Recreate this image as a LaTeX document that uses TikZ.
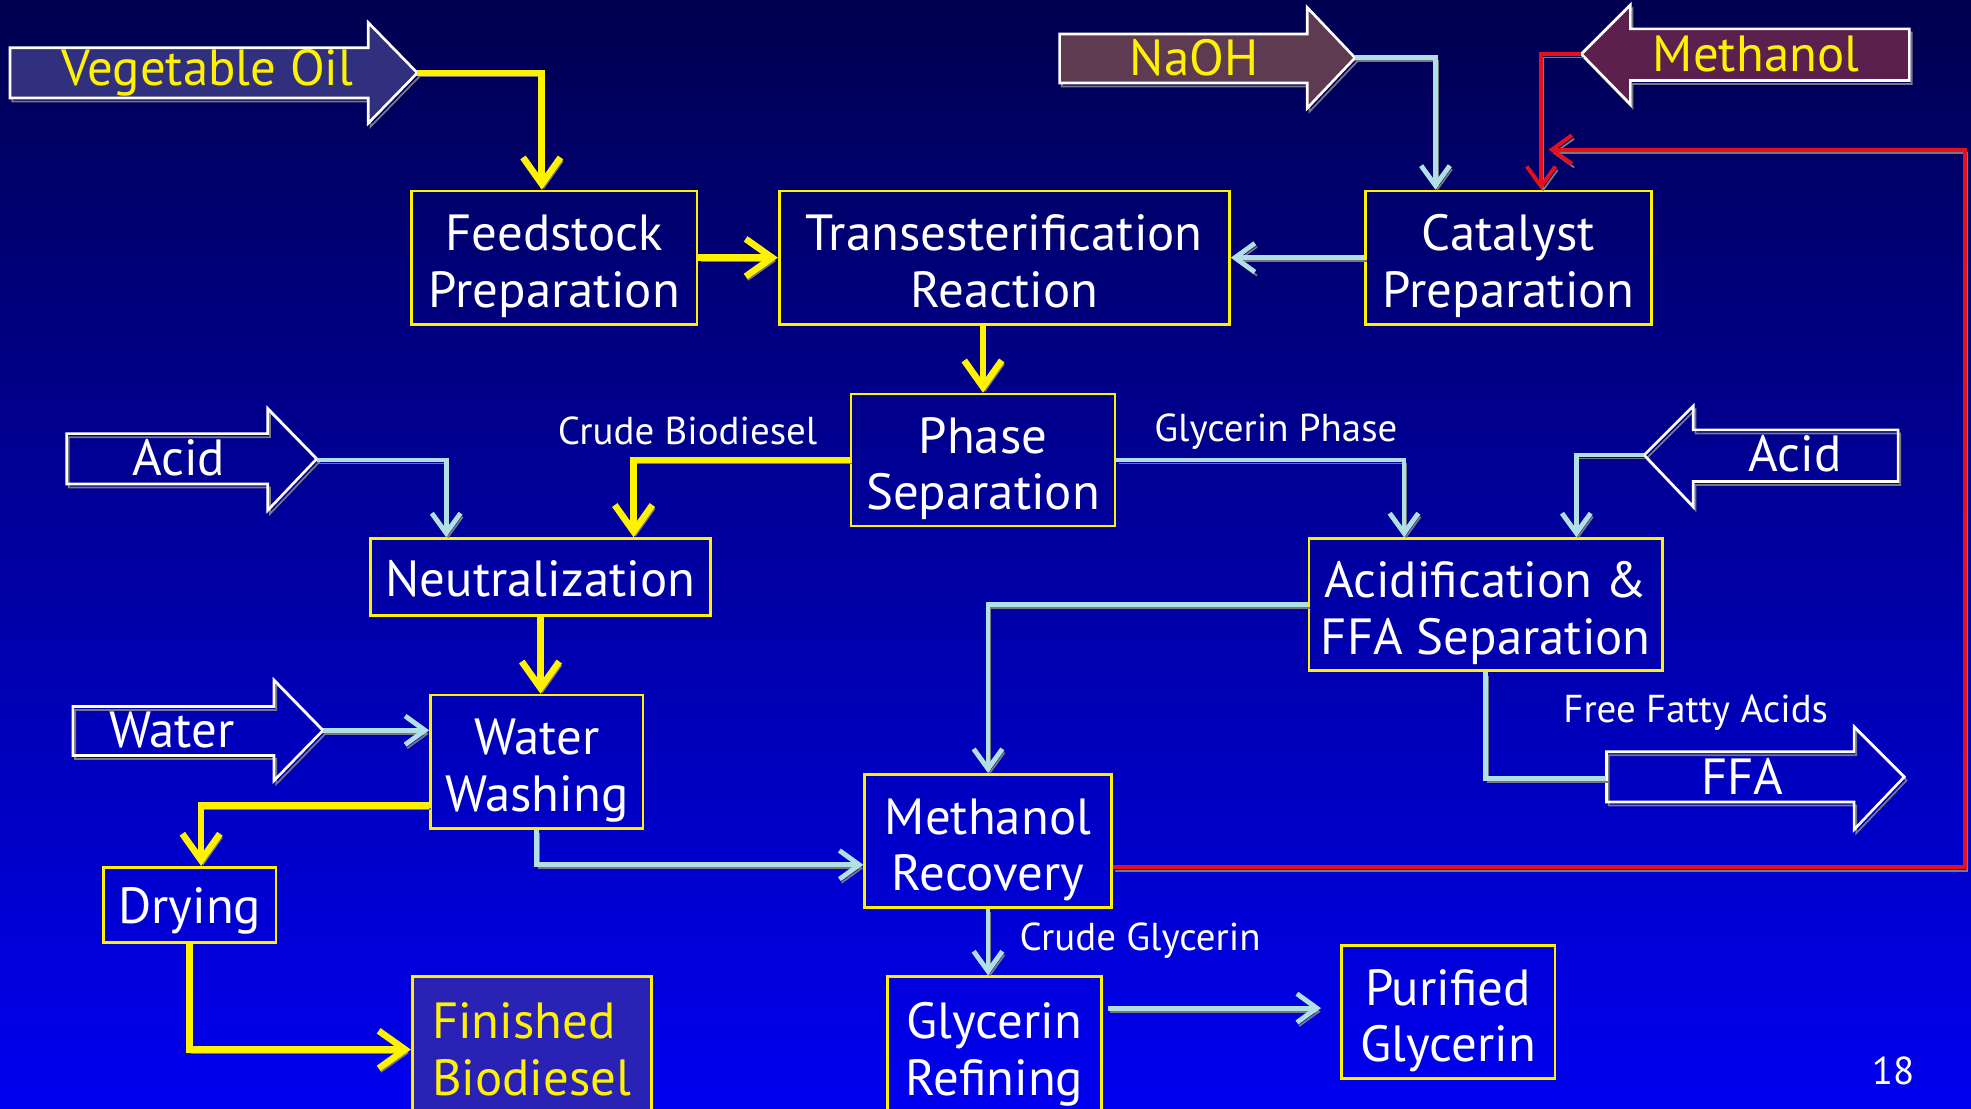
\documentclass[tikz,border=0pt]{standalone}
\usepackage{fontspec}
\setmainfont{PT Sans}
\usetikzlibrary{arrows.meta}

\definecolor{bgtop}{RGB}{0,0,80}
\definecolor{bgbot}{RGB}{0,0,240}
\definecolor{flowblue}{RGB}{176,224,230}
\definecolor{flowred}{RGB}{230,16,26}
\definecolor{dropgray}{RGB}{120,120,130}
\definecolor{oilfill}{RGB}{48,48,127}
\definecolor{naohfill}{RGB}{95,59,82}
\definecolor{methfill}{RGB}{92,31,78}
\definecolor{finfill}{RGB}{42,34,181}

\begin{document}
\begin{tikzpicture}[x=0.01cm, y=-0.01cm]
    \tikzset{proc/.style = {draw=yellow, line width=0.6pt, text=white, align=center, inner sep=0pt,
                            font=\fontsize{11.5}{12.8}\selectfont}}
    \tikzset{oneline/.style = {proc, execute at begin node={\rule{0pt}{11pt}},
                               execute at end node={\rule[-2.2pt]{0pt}{2.2pt}}}}
    \tikzset{twoline/.style = {proc, text height=25pt, text depth=2.5pt}}
    \tikzset{drop/.style = {preaction={draw=dropgray, transform canvas={xshift=0.5pt, yshift=-0.8pt}}}}
    \tikzset{feed/.style = {drop, draw=white, line width=0.6pt}}
    \tikzset{feedtext/.style = {text=white, font=\fontsize{11.5}{12.8}\selectfont}}
    \tikzset{note/.style = {text=white, font=\fontsize{8.8}{10}\selectfont}}
    \tikzset{yflow/.style = {drop, yellow, line width=1.5pt, -{Straight Barb[length=6pt, width=8.5pt]}}}
    \tikzset{bflow/.style = {drop, flowblue, line width=1.1pt, -{Straight Barb[length=4.5pt, width=6.5pt]}}}
    \tikzset{rflow/.style = {drop, flowred, line width=0.9pt, -{Straight Barb[length=4.5pt, width=6.5pt]}}}
    % background
    \useasboundingbox (0,0) rectangle (1568,882);
    \shade[top color=bgtop, bottom color=bgbot] (0,0) rectangle (1568,882);
    % feed arrows
    \draw[feed, fill=oilfill] (8,38) -- (293,38) -- (293,18) -- (332,58) -- (293,98) -- (293,78) -- (8,78) -- cycle;
    \node[feedtext, text=yellow] (oil) at (165,58) {Vegetable Oil};
    \coordinate (oiltip) at (332,58);
    \draw[feed, fill=naohfill] (843,27) -- (1040,27) -- (1040,6) -- (1078,46) -- (1040,86) -- (1040,66) -- (843,66) -- cycle;
    \node[feedtext, text=yellow] (naoh) at (950,46) {NaOH};
    \coordinate (naohtip) at (1078,46);
    \draw[feed, fill=methfill] (1519,23) -- (1297,23) -- (1297,4) -- (1258,43) -- (1297,83) -- (1297,64) -- (1519,64) -- cycle;
    \node[feedtext, text=yellow] (methanol) at (1397,43) {Methanol};
    \coordinate (methtip) at (1258,43);
    \draw[feed] (53,345) -- (213,345) -- (213,325) -- (252,365) -- (213,406) -- (213,385) -- (53,385) -- cycle;
    \node[feedtext] (acidL) at (142,364) {Acid};
    \coordinate (acidLtip) at (252,366);
    \draw[feed] (58,562) -- (218,562) -- (218,541) -- (257,581) -- (218,621) -- (218,601) -- (58,601) -- cycle;
    \node[feedtext] (water) at (137,581) {Water};
    \coordinate (watertip) at (257,581);
    \draw[feed] (1510,342) -- (1347,342) -- (1347,323) -- (1308,362) -- (1347,403) -- (1347,383) -- (1510,383) -- cycle;
    \node[feedtext] (acidR) at (1428,361) {Acid};
    \coordinate (acidRtip) at (1308,362);
    \draw[feed] (1278,598) -- (1475,598) -- (1475,578) -- (1515,618) -- (1475,660) -- (1475,638) -- (1278,638) -- cycle;
    \node[feedtext] (ffa) at (1386,618) {FFA};
    \coordinate (ffatail) at (1278,619);
    % process boxes
    \node[twoline, minimum width=2.27cm, minimum height=1.06cm] (prep) at (441,205) {Feedstock\\Preparation};
    \node[twoline, minimum width=3.58cm, minimum height=1.06cm] (trans) at (799,205) {Transesterification\\Reaction};
    \node[twoline, minimum width=2.27cm, minimum height=1.06cm] (cat) at (1200,205) {Catalyst\\Preparation};
    \node[twoline, minimum width=2.10cm, minimum height=1.05cm] (phase) at (782,366) {Phase\\Separation};
    \node[oneline, minimum width=2.70cm, minimum height=0.61cm] (neut) at (430,459) {Neutralization};
    \node[twoline, minimum width=2.81cm, minimum height=1.05cm] (acidif) at (1182,481) {Acidification \&\\FFA Separation};
    \node[twoline, minimum width=1.69cm, minimum height=1.06cm] (wash) at (427,606) {Water\\Washing};
    \node[twoline, minimum width=1.96cm, minimum height=1.06cm] (meth) at (786,669) {Methanol\\Recovery};
    \node[oneline, minimum width=1.37cm, minimum height=0.60cm] (dry) at (151,720) {Drying};
    \node[twoline, fill=finfill, text=yellow, align=left, minimum width=1.90cm, minimum height=1.10cm] (fin) at (423,832) {Finished\\Biodiesel};
    \node[twoline, minimum width=1.70cm, minimum height=1.10cm] (glyc) at (791,832) {Glycerin\\Refining};
    \node[twoline, minimum width=1.70cm, minimum height=1.06cm] (pure) at (1152,805) {Purified\\Glycerin};
    % labels
    \node[note] (crudebio) at (547,343) {Crude Biodiesel};
    \node[note] (glyphase) at (1015,343) {Glycerin Phase};
    \node[note] (fattyacids) at (1349,567) {Free Fatty Acids};
    \node[note] (crudegly) at (907,748) {Crude Glycerin};
    \node[note] (page) at (1506,852) {18};
    % flows
    \draw[yflow] (oiltip) -| ([xshift=-0.1cm]prep.north);
    \draw[yflow] (prep.east) -- (trans.west);
    \draw[bflow] (cat.west) -- (trans.east);
    \draw[bflow] (naohtip) -| ([xshift=-0.58cm]cat.north);
    \draw[rflow] (methtip) -| ([xshift=0.26cm]cat.north);
    \coordinate (recycle) at (1232,119);
    \draw[rflow] ([yshift=-0.21cm]meth.east) -| (1563,119) -- (recycle);
    \draw[yflow] (phase.north |- trans.south) -- (phase.north);
    \draw[yflow] (phase.west) -| ([xshift=0.74cm]neut.north);
    \draw[bflow] (phase.east) -| ([xshift=-0.65cm]acidif.north);
    \draw[bflow] (acidLtip) -| ([xshift=-0.75cm]neut.north);
    \draw[yflow] (neut.south) -- (neut.south |- wash.north);
    \draw[bflow] (watertip) -- (watertip -| wash.west);
    \draw[yflow] ([yshift=-0.35cm]wash.west) -| ([xshift=0.09cm]dry.north);
    \draw[yflow] (dry.south) |- ([yshift=-0.03cm]fin.west);
    \draw[bflow] (wash.south) |- ([yshift=-0.19cm]meth.west);
    \draw[bflow] (acidif.west) -| (meth.north);
    \draw[bflow] (acidRtip) -| ([xshift=0.72cm]acidif.north);
    \draw[drop, flowblue, line width=1.1pt] (acidif.south) |- (ffatail);
    \draw[bflow] (meth.south) -- (meth.south |- glyc.north);
    \draw[bflow, shorten <=0.04cm, shorten >=0.15cm] ([yshift=0.30cm]glyc.east) -- ([yshift=0.30cm]glyc.east -| pure.west);
\end{tikzpicture}
\end{document}
